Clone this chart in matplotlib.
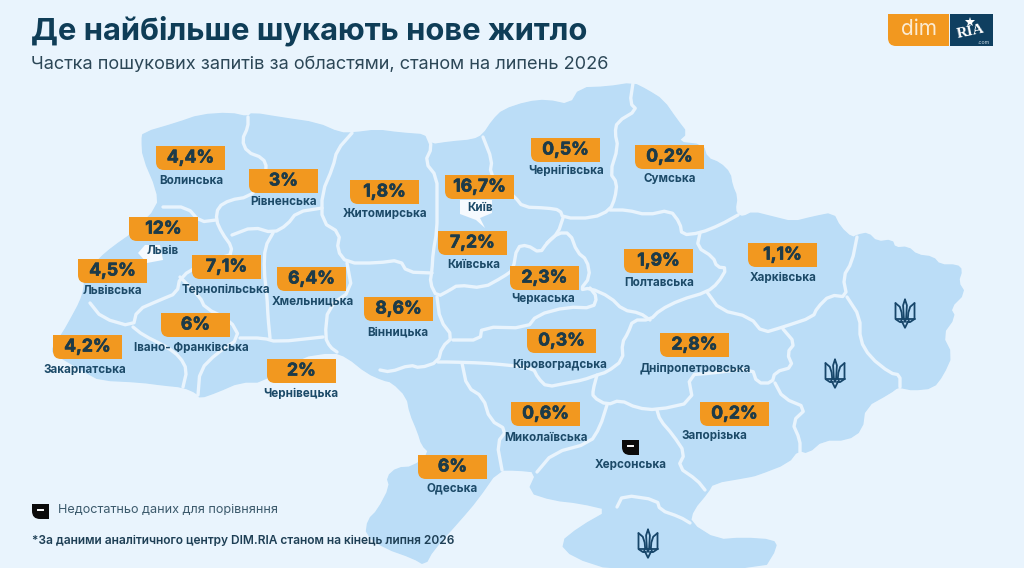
#!/usr/bin/python

import matplotlib
matplotlib.use('Agg')
import matplotlib.pyplot as plt
import matplotlib.patheffects as pe
from matplotlib.path import Path
from matplotlib.patches import PathPatch, Polygon

# ---------- data ----------
title_text = 'Де найбільше шукають нове житло'
subtitle_text = 'Частка пошукових запитів за областями, станом на липень 2026'
nodata_text = 'Недостатньо даних для порівняння'
footnote_text = '*За даними аналітичного центру DIM.RIA станом на кінець липня 2026'

region_names = ['Волинська', 'Рівненська', 'Житомирська', 'Київ', 'Львів', 'Львівська',
                'Тернопільська', 'Хмельницька', 'Київська', 'Вінницька', 'Івано- Франківська',
                'Закарпатська', 'Чернівецька', 'Чернігівська', 'Сумська', 'Полтавська',
                'Харківська', 'Черкаська', 'Кіровоградська', 'Дніпропетровська',
                'Миколаївська', 'Запорізька', 'Одеська']
region_shares = [4.4, 3, 1.8, 16.7, 12, 4.5,
                 7.1, 6.4, 7.2, 8.6, 6,
                 4.2, 2, 0.5, 0.2, 1.9,
                 1.1, 2.3, 0.3, 2.8,
                 0.6, 0.2, 6]

# left / top of every orange tag, centre of every name (image pixels)
tag_x = [156, 249, 350, 445, 129, 78, 192, 277, 438, 364, 161, 53, 267, 531, 635, 624, 748, 510, 527, 660, 511, 700, 418]
tag_y = [146, 169, 180, 175, 217, 259, 255, 267, 231, 297, 313, 335, 359, 138, 145, 249, 243, 266, 329, 333, 402, 402, 455]
name_x = [191, 284, 385, 480, 163, 112, 226, 313, 474, 398, 191, 85, 301, 566, 670, 659, 783, 543, 560, 695, 546, 714, 452]
name_y = [181, 202, 214, 208, 251, 291, 290, 301, 265, 332, 348, 370, 394, 171, 179, 283, 278, 299, 364, 368, 438, 436, 488]

nodata_region = 'Херсонська'
nodata_region_xy = (631, 465)

trident_places = [(905, 314), (835, 374), (648, 544)]
nodata_places = [(622, 440), (32, 504)]

country_outline = [
    (143, 133), (177, 123), (200, 115), (230, 113), (248, 117), (252, 113), (283, 118), (317, 123),
    (340, 133), (353, 133), (377, 130), (400, 133), (427, 135), (430, 145), (450, 142), (473, 140),
    (483, 135), (493, 120), (503, 110), (527, 102), (547, 100), (570, 105), (580, 88), (607, 87),
    (633, 83), (647, 90), (663, 100), (677, 120), (687, 133), (677, 142), (703, 145), (707, 158),
    (720, 163), (730, 173), (732, 185), (737, 197), (735, 210), (738, 215), (743, 217), (753, 212),
    (773, 217), (793, 222), (813, 217), (833, 213), (840, 227), (852, 238), (858, 235), (868, 233),
    (877, 242), (892, 240), (895, 248), (908, 247), (917, 255), (933, 257), (940, 265), (957, 265),
    (962, 270), (958, 282), (965, 293), (950, 308), (955, 317), (942, 335), (952, 355), (943, 375),
    (933, 388), (913, 390), (903, 388), (898, 387), (890, 393), (865, 407), (862, 430), (847, 440),
    (823, 440), (808, 453), (798, 450), (788, 463), (757, 475), (748, 477), (713, 483), (708, 492),
    (693, 510), (690, 523), (717, 540), (743, 538), (773, 540), (777, 547), (763, 570), (613, 570),
    (573, 557), (560, 543), (580, 527), (610, 510), (580, 503), (553, 500), (528, 492), (537, 472),
    (517, 470), (498, 470), (477, 500), (460, 520), (433, 550), (425, 565), (413, 558), (385, 548),
    (366, 535), (368, 520), (378, 510), (390, 487), (387, 477), (397, 468), (413, 467), (430, 453),
    (422, 445), (418, 432), (410, 413), (407, 397), (392, 382), (383, 380), (367, 373), (347, 357),
    (333, 352), (300, 357), (263, 382), (240, 382), (217, 392), (200, 398), (197, 393), (183, 387),
    (163, 385), (140, 382), (100, 380), (87, 373), (53, 353), (53, 347), (63, 333), (72, 317),
    (80, 302), (84, 290), (85, 275), (100, 258), (113, 247), (133, 233), (158, 207), (157, 190),
    (143, 157), (142, 140),
]

oblast_borders = [
    [(248, 117), (248, 127), (242, 140), (247, 152), (263, 158), (267, 168), (262, 185), (248, 197), (230, 200), (218, 207), (216, 220), (222, 233), (232, 247), (230, 255)],
    [(216, 220), (200, 222), (187, 207), (163, 207)],
    [(232, 235), (253, 227), (273, 233), (287, 225), (297, 212), (322, 208)],
    [(352, 133), (337, 150), (333, 167), (322, 193), (322, 222), (340, 233), (337, 250), (347, 263), (377, 263), (400, 260), (407, 272), (432, 273)],
    [(273, 233), (265, 247), (264, 270), (267, 297), (268, 317), (270, 338)],
    [(347, 263), (352, 290), (328, 307), (325, 337), (330, 347), (337, 352)],
    [(230, 255), (205, 262), (180, 277), (177, 293), (160, 300), (137, 310), (133, 327), (102, 318), (90, 303)],
    [(133, 327), (143, 335), (167, 347), (180, 357), (187, 370), (183, 387)],
    [(180, 277), (200, 297), (205, 308), (230, 320), (240, 338), (217, 353), (200, 370), (198, 395)],
    [(240, 338), (263, 338), (277, 342), (323, 337)],
    [(427, 135), (432, 147), (425, 162), (437, 177), (437, 203), (437, 230), (433, 253), (432, 270), (430, 283), (437, 297), (450, 290), (458, 285), (483, 288), (503, 277), (513, 270), (517, 247), (527, 245), (540, 253), (547, 243), (558, 233), (563, 218)],
    [(437, 297), (440, 320), (453, 337), (442, 347), (438, 362), (420, 368), (410, 365), (390, 372), (380, 370)],
    [(453, 340), (480, 340), (482, 327), (527, 328), (537, 315), (567, 307), (593, 308), (597, 297), (590, 288)],
    [(547, 243), (558, 233), (570, 233), (577, 252), (587, 260), (590, 277), (580, 290), (590, 288), (610, 297), (623, 310), (640, 313), (650, 320)],
    [(483, 137), (492, 160), (490, 173), (500, 185), (515, 197), (523, 207), (547, 208), (560, 210), (563, 218), (593, 218), (610, 210), (615, 198), (617, 183), (610, 173), (618, 147), (615, 133), (617, 122), (637, 110), (630, 103), (633, 83)],
    [(610, 210), (627, 210), (647, 215), (670, 210), (680, 223), (682, 235), (700, 233), (720, 225), (738, 215)],
    [(700, 233), (697, 247), (713, 257), (717, 267), (727, 268), (718, 283), (707, 292), (680, 300), (660, 310), (650, 320), (633, 320), (628, 333), (622, 343), (623, 360), (607, 372), (597, 375), (583, 380), (567, 383), (547, 387), (538, 378), (533, 368), (507, 365), (483, 363), (450, 362), (438, 362)],
    [(707, 292), (720, 310), (750, 317), (763, 333), (783, 327), (813, 317), (817, 308), (830, 295), (847, 297), (843, 277), (852, 262), (857, 237)],
    [(847, 297), (860, 317), (860, 340), (870, 357), (890, 373), (900, 375), (900, 387)],
    [(783, 329), (795, 343), (787, 353), (793, 367), (775, 372), (772, 383), (757, 383), (752, 368), (713, 373), (688, 375), (693, 402), (657, 410), (637, 408), (620, 400), (607, 405), (593, 397), (593, 390), (597, 375)],
    [(462, 363), (467, 387), (483, 397), (490, 420), (507, 430), (497, 443), (502, 470)],
    [(607, 405), (600, 427), (590, 443), (553, 453), (537, 472)],
    [(657, 410), (660, 420), (673, 435), (685, 453), (678, 467), (697, 480), (705, 490)],
    [(775, 383), (783, 398), (807, 408), (792, 422), (800, 440), (800, 452)],
    [(617, 507), (623, 495), (657, 500), (660, 510), (680, 517), (690, 523)],
]

kyiv_blob = [(460, 200), (492, 200), (492, 213), (480, 218), (485, 228), (476, 220), (460, 214)]
lviv_blob = [(138, 253), (145, 245), (160, 245), (163, 260), (147, 263)]

# ---------- style ----------
bg_color = '#E9F4FD'
map_color = '#BBDDF7'
orange = '#F2981F'
dark = '#0F3D57'
name_color = '#1C4A68'
value_color = '#1D3B49'
text_font = ['Inter', 'DejaVu Sans']


def soften(points, closed=False):
    # one corner-cutting pass, so traced borders do not look like straight segments
    out = [] if closed else [points[0]]
    n = len(points)
    for i in range(n if closed else n - 1):
        x0, y0 = points[i]
        x1, y1 = points[(i + 1) % n]
        out.append((0.75 * x0 + 0.25 * x1, 0.75 * y0 + 0.25 * y1))
        out.append((0.25 * x0 + 0.75 * x1, 0.25 * y0 + 0.75 * y1))
    if not closed:
        out.append(points[-1])
    return out


def tag_path(x, y, w, h, r):
    # orange plate: square corners except the rounded bottom-left one
    verts = [(x, y), (x + w, y), (x + w, y + h), (x + r, y + h), (x, y + h), (x, y + h - r), (x, y)]
    codes = [Path.MOVETO, Path.LINETO, Path.LINETO, Path.LINETO, Path.CURVE3, Path.CURVE3, Path.CLOSEPOLY]
    return Path(verts, codes)


def draw_trident(ax, cx, cy, color='#17466A'):
    # cx, cy = middle of the sign, 19 x 29 px
    sx, sy = 9.5, 14.5
    strokes = [
        [(-1, -0.75), (-1, 0.35), (-0.55, 0.55), (-0.2, 0.55)],
        [(1, -0.75), (1, 0.35), (0.55, 0.55), (0.2, 0.55)],
        [(-1, -0.75), (-0.55, -0.5), (-0.35, -0.1), (-0.3, 0.3), (-0.45, 0.55)],
        [(1, -0.75), (0.55, -0.5), (0.35, -0.1), (0.3, 0.3), (0.45, 0.55)],
        [(0, -1), (-0.2, -0.6), (-0.12, 0.3), (0, 0.55), (0.12, 0.3), (0.2, -0.6), (0, -1)],
        [(-1, 0.35), (1, 0.35)],
        [(-0.3, 0.55), (0, 0.95), (0.3, 0.55)],
    ]
    for s in strokes:
        ax.plot([cx + p[0] * sx for p in s], [cy + p[1] * sy for p in s], color=color, lw=1.3,
                solid_joinstyle='round', solid_capstyle='round', zorder=4)


def draw_nodata(ax, x, y):
    ax.add_patch(PathPatch(tag_path(x, y, 17, 15, 8), fc='#0B0B0B', ec='none', zorder=5))
    ax.plot([x + 6, x + 11], [y + 6, y + 6], color='white', lw=1.4, zorder=6)


fig = plt.figure(figsize=(10.24, 5.68), dpi=100, facecolor=bg_color)
ax = fig.add_axes([0, 0, 1, 1])
ax.set_xlim(0, 1024)
ax.set_ylim(568, 0)
ax.axis('off')

# map
ax.add_patch(Polygon(soften(country_outline, closed=True), closed=True, fc=map_color, ec=map_color, lw=1,
                     joinstyle='round', zorder=1))
for line in oblast_borders:
    smooth = soften(line)
    ax.plot([p[0] for p in smooth], [p[1] for p in smooth], color=bg_color, lw=2.4,
            solid_joinstyle='round', solid_capstyle='round', zorder=2)
ax.add_patch(Polygon(kyiv_blob, closed=True, fc='#F6FAFE', ec='none', zorder=2))
ax.add_patch(Polygon(lviv_blob, closed=True, fc='#F6FAFE', ec='none', zorder=2))

for cx, cy in trident_places:
    draw_trident(ax, cx, cy)

# tags and names
for i, name in enumerate(region_names):
    ax.add_patch(PathPatch(tag_path(tag_x[i], tag_y[i], 69, 24, 8), fc=orange, ec='none', zorder=5))
    label = ('%g' % region_shares[i]).replace('.', ',') + '%'
    ax.text(tag_x[i] + 34.5, tag_y[i] + 12, label, fontsize=12.6, fontweight='bold', family=text_font,
            color=value_color, ha='center', va='center', zorder=6,
            path_effects=[pe.withStroke(linewidth=0.5, foreground=value_color)])
    ax.text(name_x[i], name_y[i], name, fontsize=8.4, fontweight='bold', family=text_font,
            color=name_color, ha='center', va='center', zorder=6)

ax.text(nodata_region_xy[0], nodata_region_xy[1], nodata_region, fontsize=8.4, fontweight='bold', family=text_font,
        color=name_color, ha='center', va='center', zorder=6)

for px, py in nodata_places:
    draw_nodata(ax, px, py)

# header
ax.text(31, 31, title_text, fontsize=22.3, fontweight='bold', family=text_font, color=dark, ha='left', va='center')
ax.text(31, 65, subtitle_text, fontsize=13.1, family=text_font, color='#2C4757', ha='left', va='center')

# legend and footnote
ax.text(58, 510, nodata_text, fontsize=9.1, family=text_font, color='#3C5A6C', ha='left', va='center', zorder=6)
ax.text(32, 541, footnote_text, fontsize=8.6, fontweight='semibold', family=text_font, color='#1E3F55',
        ha='left', va='center', zorder=6)

# logo
ax.add_patch(PathPatch(tag_path(888, 14, 61, 32, 8), fc=orange, ec='none', zorder=5))
ax.add_patch(Polygon([(950, 14), (993, 14), (993, 46), (950, 46)], closed=True, fc='#0F3F60', ec='none', zorder=5))
ax.text(918.5, 29, 'dim', fontsize=15, family=text_font, color='#FBEBD2', ha='center', va='center', zorder=6)
ax.text(971, 32, 'RIA', fontsize=11, fontweight='bold', family='Liberation Serif', color='white',
        rotation=12, ha='center', va='center', zorder=6)
ax.plot([970], [22], marker='*', ms=7, color='white', mew=0, zorder=6)
ax.text(984, 42, '.com', fontsize=3.8, family=text_font, color='#C9D8E2', ha='center', va='center', zorder=6)

fig.savefig('out.png', dpi=100, facecolor=bg_color)
